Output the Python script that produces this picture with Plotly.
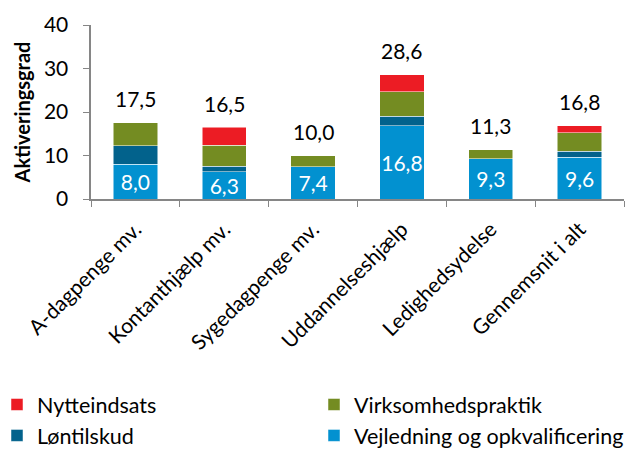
import plotly.graph_objects as go

categories = ["A-dagpenge mv.", "Kontanthjælp mv.", "Sygedagpenge mv.", "Uddannelseshjælp", "Ledighedsydelse", "Gennemsnit i alt"]
vejledning = [8.0, 6.3, 7.4, 16.8, 9.3, 9.6]
loentilskud = [4.3, 1.2, 0.0, 2.2, 0.0, 1.4]
virksomhedspraktik = [5.2, 4.9, 2.6, 5.6, 2.0, 4.2]
nytteindsats = [0.0, 4.1, 0.0, 4.0, 0.0, 1.6]
totals = [17.5, 16.5, 10.0, 28.6, 11.3, 16.8]

FONT = "Lato, Carlito, Calibri, sans-serif"
W, H = 632, 450
L, R, T, B = 91, 8, 25, 251
PW = W - L - R

def fmt(v):
    return f"{v:.1f}".replace(".", ",")

fig = go.Figure()
fig.add_trace(go.Bar(x=categories, y=vejledning, name="Vejledning og opkvalificering",
                     marker=dict(color="#0291D0", line=dict(color="white", width=0.5)),
                     text=[fmt(v) for v in vejledning], textposition="inside",
                     insidetextanchor="middle", textangle=0, constraintext="none",
                     textfont=dict(color="white", size=21, family=FONT),
                     legend="legend2", legendrank=2))
fig.add_trace(go.Bar(x=categories, y=loentilskud, name="Løntilskud",
                     marker=dict(color="#02628C", line=dict(color="white", width=0.5)),
                     legend="legend", legendrank=2))
fig.add_trace(go.Bar(x=categories, y=virksomhedspraktik, name="Virksomhedspraktik",
                     marker=dict(color="#748C22", line=dict(color="white", width=0.5)),
                     legend="legend2", legendrank=1))
fig.add_trace(go.Bar(x=categories, y=nytteindsats, name="Nytteindsats",
                     marker=dict(color="#EC1C24", line=dict(color="white", width=0.5)),
                     legend="legend", legendrank=1))

for c, t in zip(categories, totals):
    fig.add_annotation(x=c, y=t, text=fmt(t), showarrow=False, yanchor="middle", yshift=24,
                       font=dict(size=21, color="black", family=FONT))

leg_common = dict(orientation="v", xref="paper", yref="container",
                  xanchor="left", yanchor="top", traceorder="normal",
                  font=dict(size=21.5, family=FONT), itemwidth=30, tracegroupgap=0,
                  bgcolor="rgba(0,0,0,0)")

fig.update_layout(
    barmode="stack", bargap=0.5,
    width=W, height=H,
    margin=dict(l=L, r=R, t=T, b=B, autoexpand=False),
    plot_bgcolor="white", paper_bgcolor="white",
    font=dict(family=FONT, size=20, color="black"),
    showlegend=True,
    legend=dict(x=(-3 - L) / PW, y=(H - 384) / H, **leg_common),
    legend2=dict(x=(314 - L) / PW, y=(H - 384) / H, **leg_common),
    uniformtext=dict(mode=False),
)
fig.update_xaxes(showline=True, linecolor="#868686", linewidth=1.5, ticks="outside",
                 tickson="boundaries", ticklen=6, tickcolor="#868686", tickangle=-45,
                 tickfont=dict(size=21, family=FONT), automargin=False, ticklabelstandoff=8)
fig.update_yaxes(range=[0, 40], dtick=10, showgrid=False, showline=True, linecolor="#868686",
                 linewidth=1.5, ticks="outside", ticklen=6, tickcolor="#868686",
                 tickfont=dict(size=21, family=FONT), automargin=False, ticksuffix="  ",
                 title=dict(text="<b>Aktiveringsgrad</b>", font=dict(size=20, family=FONT), standoff=8))

fig.write_html("out.html", config={"displayModeBar": False},
               post_script="document.body.style.margin='0';document.body.style.padding='0';")
